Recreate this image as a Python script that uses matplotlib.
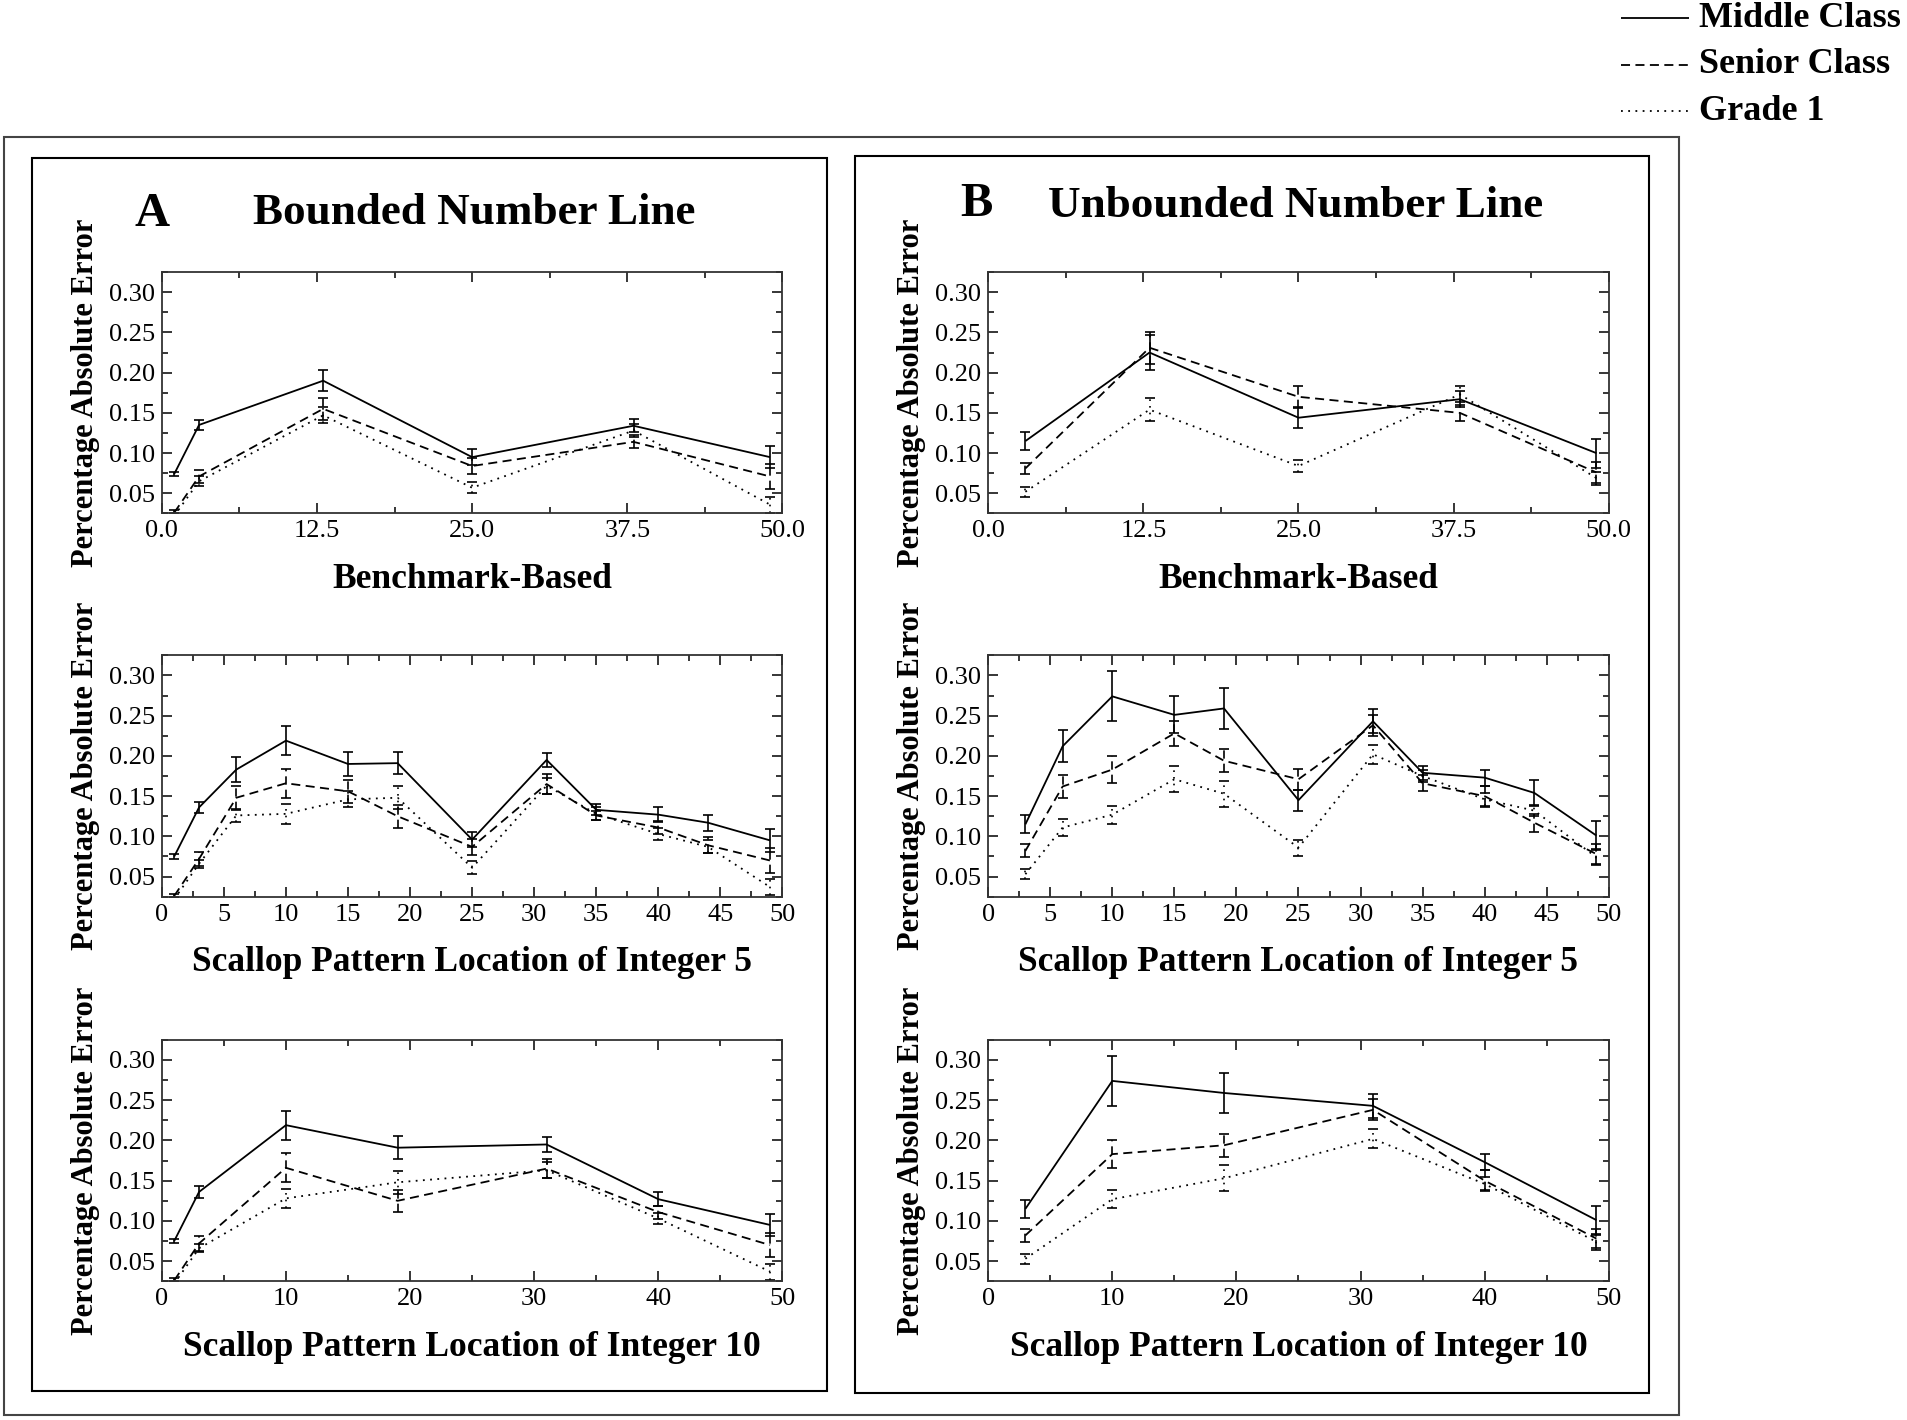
import numpy as np
import matplotlib
matplotlib.use("Agg")
import matplotlib.pyplot as plt
from matplotlib.patches import Rectangle
from matplotlib.lines import Line2D
from matplotlib.ticker import MultipleLocator, FormatStrFormatter

plt.rcParams['font.family'] = ['Liberation Serif', 'DejaVu Serif']

# ---------------- data ---------------- #
groups = ['Middle Class', 'Senior Class', 'Grade 1']

# benchmark-based, bounded (A)
bench_a_x = [1, 3, 13, 25, 38, 49]
bench_a_mid = [0.074, 0.135, 0.190, 0.095, 0.134, 0.095]
bench_a_mid_err = [0.003, 0.006, 0.013, 0.010, 0.008, 0.014]
bench_a_sen = [0.026, 0.071, 0.155, 0.084, 0.114, 0.071]
bench_a_sen_err = [0.003, 0.008, 0.014, 0.010, 0.008, 0.015]
bench_a_g1 = [0.022, 0.065, 0.147, 0.057, 0.128, 0.036]
bench_a_g1_err = [0.003, 0.006, 0.010, 0.007, 0.008, 0.010]

# benchmark-based, unbounded (B)
bench_b_x = [3, 13, 25, 38, 49]
bench_b_mid = [0.115, 0.225, 0.144, 0.167, 0.100]
bench_b_mid_err = [0.011, 0.022, 0.013, 0.010, 0.018]
bench_b_sen = [0.081, 0.231, 0.170, 0.150, 0.076]
bench_b_sen_err = [0.007, 0.020, 0.014, 0.010, 0.013]
bench_b_g1 = [0.052, 0.154, 0.084, 0.173, 0.069]
bench_b_g1_err = [0.006, 0.014, 0.008, 0.010, 0.008]

# scallop locations, bounded (A)
scal_a_x = [1, 3, 6, 10, 15, 19, 25, 31, 35, 40, 44, 49]
scal_a_mid = [0.075, 0.136, 0.183, 0.219, 0.190, 0.191, 0.096, 0.195, 0.133, 0.127, 0.117, 0.095]
scal_a_mid_err = [0.003, 0.007, 0.016, 0.018, 0.015, 0.014, 0.009, 0.009, 0.007, 0.009, 0.010, 0.014]
scal_a_sen = [0.026, 0.072, 0.148, 0.166, 0.156, 0.125, 0.087, 0.165, 0.126, 0.111, 0.089, 0.070]
scal_a_sen_err = [0.003, 0.009, 0.015, 0.018, 0.014, 0.014, 0.010, 0.012, 0.006, 0.008, 0.010, 0.015]
scal_a_g1 = [0.022, 0.066, 0.126, 0.128, 0.146, 0.148, 0.061, 0.163, 0.128, 0.103, 0.087, 0.037]
scal_a_g1_err = [0.003, 0.005, 0.008, 0.012, 0.010, 0.014, 0.008, 0.010, 0.008, 0.007, 0.008, 0.010]

# scallop locations, unbounded (B)
scal_b_x = [3, 6, 10, 15, 19, 25, 31, 35, 40, 44, 49]
scal_b_mid = [0.115, 0.212, 0.274, 0.251, 0.259, 0.145, 0.243, 0.179, 0.173, 0.154, 0.101]
scal_b_mid_err = [0.011, 0.020, 0.031, 0.023, 0.025, 0.013, 0.015, 0.009, 0.010, 0.016, 0.018]
scal_b_sen = [0.082, 0.162, 0.183, 0.228, 0.194, 0.171, 0.238, 0.166, 0.150, 0.117, 0.078]
scal_b_sen_err = [0.008, 0.014, 0.017, 0.016, 0.014, 0.013, 0.013, 0.010, 0.013, 0.011, 0.012]
scal_b_g1 = [0.053, 0.111, 0.127, 0.171, 0.153, 0.086, 0.202, 0.175, 0.146, 0.132, 0.074]
scal_b_g1_err = [0.006, 0.010, 0.011, 0.016, 0.016, 0.010, 0.012, 0.007, 0.008, 0.007, 0.010]

# locations of integer 5 and integer 10 patterns
int5_x = [1, 3, 6, 10, 15, 19, 25, 31, 35, 40, 44, 49]
int10_x = [1, 3, 10, 19, 31, 40, 49]

styles = [(0, ()), (0, (5, 3)), (0, (1, 3))]


def pick(xs, ys, keep):
    idx = [i for i, v in enumerate(xs) if v in keep]
    return [xs[i] for i in idx], [ys[i] for i in idx]


def draw(ax, x, series, errs, keep=None):
    for y, e, ls in zip(series, errs, styles):
        xx, yy = (x, y) if keep is None else pick(x, y, keep)
        _, ee = (x, e) if keep is None else pick(x, e, keep)
        eb = ax.errorbar(xx, yy, yerr=ee, color='black', lw=1.3, ls=ls,
                         elinewidth=1.2, capsize=3.5, capthick=1.2)
        eb[2][0].set_linestyle(ls if ls != (0, ()) else '-')


def style(ax, major, minor, fmt, xlabel):
    ax.set_xlim(0, 50)
    ax.set_ylim(0.025, 0.325)
    ax.xaxis.set_major_locator(MultipleLocator(major))
    ax.xaxis.set_minor_locator(MultipleLocator(minor))
    ax.xaxis.set_major_formatter(FormatStrFormatter(fmt))
    ax.yaxis.set_minor_locator(MultipleLocator(0.025))
    ax.yaxis.set_major_formatter(FormatStrFormatter('%.2f'))
    ax.set_yticks([0.05, 0.10, 0.15, 0.20, 0.25, 0.30])
    ax.tick_params(which='both', direction='in', top=True, right=True,
                   labelsize=19, width=1.1)
    ax.tick_params(which='major', length=7, pad=5)
    ax.tick_params(which='minor', length=4)
    for s in ax.spines.values():
        s.set_linewidth(1.3)
        s.set_color('#333333')
    ax.set_xlabel(xlabel, fontsize=25.5, fontweight='bold')
    ax.xaxis.set_label_coords(0.5, -0.205)
    ax.set_ylabel('Percentage Absolute Error', fontsize=22, fontweight='bold')
    ax.yaxis.set_label_coords(-0.1, 0.5)


fig = plt.figure(figsize=(19.08, 14.20), dpi=100)

lefts = [0.0848, 0.5179]
bottoms = [0.6384, 0.3685, 0.0977]
w, h = 0.3253, 0.1700

axes = {}
for c, l in enumerate(lefts):
    for r, b in enumerate(bottoms):
        axes[(r, c)] = fig.add_axes([l, b, w, h])

draw(axes[(0, 0)], bench_a_x, [bench_a_mid, bench_a_sen, bench_a_g1],
     [bench_a_mid_err, bench_a_sen_err, bench_a_g1_err])
draw(axes[(1, 0)], scal_a_x, [scal_a_mid, scal_a_sen, scal_a_g1],
     [scal_a_mid_err, scal_a_sen_err, scal_a_g1_err], keep=int5_x)
draw(axes[(2, 0)], scal_a_x, [scal_a_mid, scal_a_sen, scal_a_g1],
     [scal_a_mid_err, scal_a_sen_err, scal_a_g1_err], keep=int10_x)
draw(axes[(0, 1)], bench_b_x, [bench_b_mid, bench_b_sen, bench_b_g1],
     [bench_b_mid_err, bench_b_sen_err, bench_b_g1_err])
draw(axes[(1, 1)], scal_b_x, [scal_b_mid, scal_b_sen, scal_b_g1],
     [scal_b_mid_err, scal_b_sen_err, scal_b_g1_err], keep=int5_x)
draw(axes[(2, 1)], scal_b_x, [scal_b_mid, scal_b_sen, scal_b_g1],
     [scal_b_mid_err, scal_b_sen_err, scal_b_g1_err], keep=int10_x)

for c in range(2):
    style(axes[(0, c)], 12.5, 6.25, '%.1f', 'Benchmark-Based')
    style(axes[(1, c)], 5, 2.5, '%d', 'Scallop Pattern Location of Integer 5')
    style(axes[(2, c)], 10, 5, '%d', 'Scallop Pattern Location of Integer 10')

# frames
fig.add_artist(Rectangle((0.0019, 0.0034), 0.8782, 0.8998, transform=fig.transFigure,
                         fill=False, lw=1.5, ec='#444444'))
fig.add_artist(Rectangle((0.0166, 0.0206), 0.4171, 0.8680, transform=fig.transFigure,
                         fill=False, lw=1.5, ec='black'))
fig.add_artist(Rectangle((0.4483, 0.0189), 0.4159, 0.8714, transform=fig.transFigure,
                         fill=False, lw=1.5, ec='black'))

# panel titles
fig.text(0.0797, 0.849, 'A', fontsize=35, fontweight='bold', ha='center', va='center')
fig.text(0.2487, 0.850, 'Bounded Number Line', fontsize=32.5, fontweight='bold',
         ha='center', va='center')
fig.text(0.512, 0.856, 'B', fontsize=35, fontweight='bold', ha='center', va='center')
fig.text(0.679, 0.855, 'Unbounded Number Line', fontsize=32.5, fontweight='bold',
         ha='center', va='center')

# legend
for i, (g, ls) in enumerate(zip(groups, styles)):
    yy = 0.987 - i * 0.0326
    fig.add_artist(Line2D([0.8495, 0.8852], [yy, yy], transform=fig.transFigure,
                          color='black', lw=1.3, ls=ls))
    fig.text(0.8903, yy, g, fontsize=26, fontweight='bold', ha='left', va='center')

fig.savefig('out.png', dpi=100)
